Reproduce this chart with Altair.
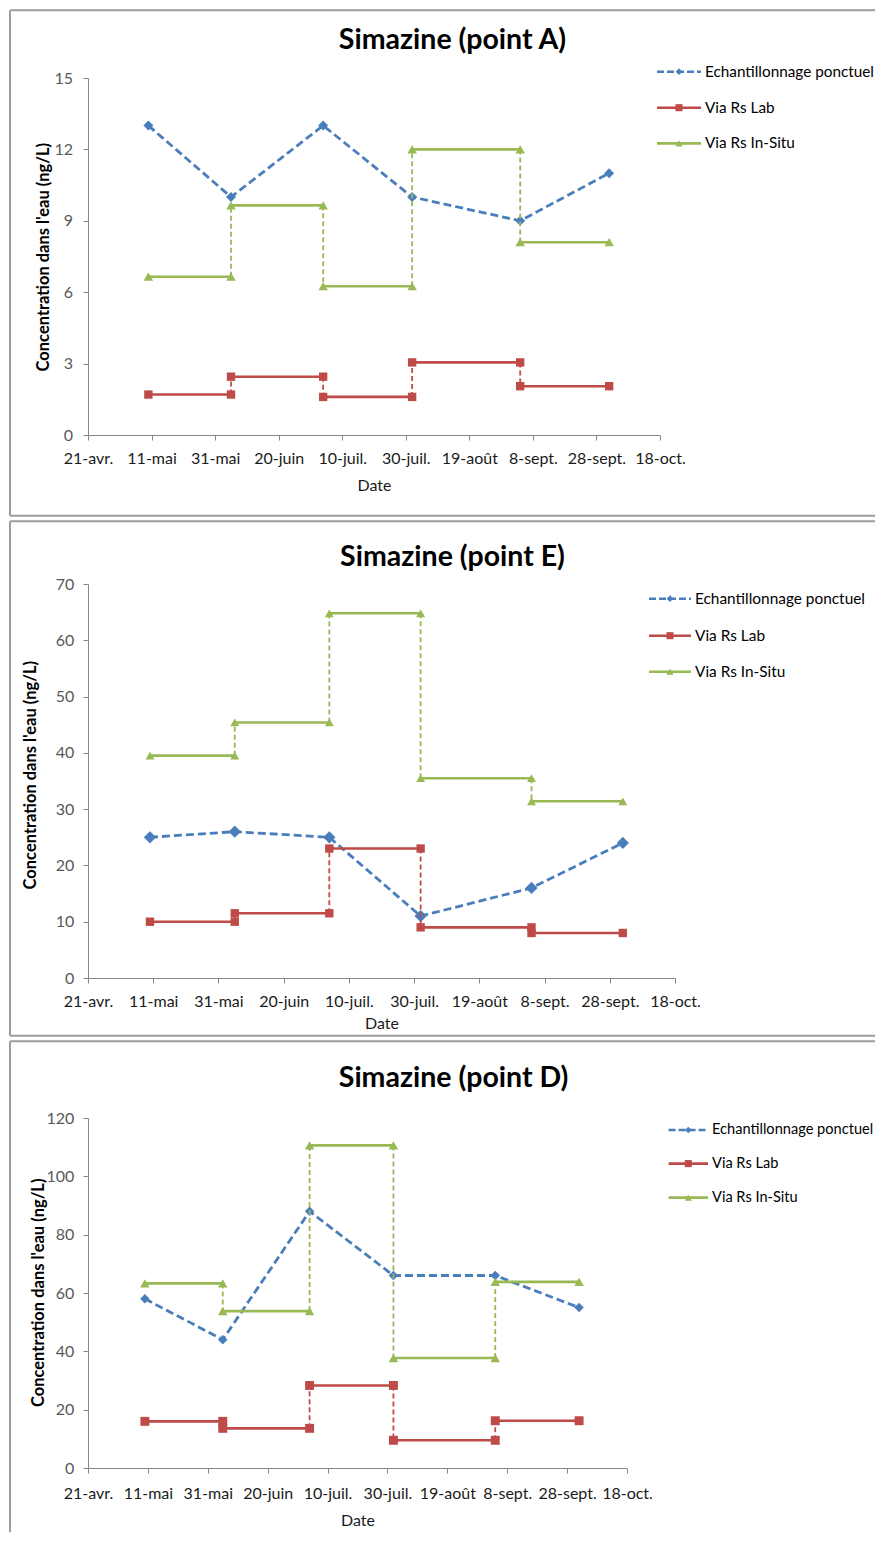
import json
import pandas as pd
import altair as alt

# ---------------- data ----------------
dates = ["2011-05-10", "2011-06-05", "2011-07-04", "2011-08-01", "2011-09-04", "2011-10-02"]
series_names = ["Echantillonnage ponctuel", "Via Rs Lab", "Via Rs In-Situ"]
series_colors = ["#4A7EBB", "#BE4B48", "#98B954"]
series_shapes = ["diamond", "square", "triangle-up"]

x_tick_dates = ["2011-04-21", "2011-05-11", "2011-05-31", "2011-06-20", "2011-07-10",
                "2011-07-30", "2011-08-19", "2011-09-08", "2011-09-28", "2011-10-18"]
x_tick_labels = ["21-avr.", "11-mai", "31-mai", "20-juin", "10-juil.",
                 "30-juil.", "19-août", "8-sept.", "28-sept.", "18-oct."]

titles = ["Simazine (point A)", "Simazine (point E)", "Simazine (point D)"]
x_title = "Date"
y_title = "Concentration dans l'eau (ng/L)"

A_ponctuel = [13, 10, 13, 10, 9, 11]
A_lab = [1.7, 2.45, 1.6, 3.05, 2.05]
A_insitu = [6.65, 9.65, 6.25, 12.0, 8.1]
A_y_ticks = [0, 3, 6, 9, 12, 15]

E_ponctuel = [25, 26, 25, 11, 16, 24]
E_lab = [10.0, 11.5, 23.0, 9.0, 8.0]
E_insitu = [39.5, 45.4, 64.8, 35.5, 31.4]
E_y_ticks = [0, 10, 20, 30, 40, 50, 60, 70]

D_ponctuel = [58, 44, 88, 66, 66, 55]
D_lab = [16.0, 13.6, 28.3, 9.5, 16.2]
D_insitu = [63.3, 53.8, 110.6, 37.7, 63.8]
D_y_ticks = [0, 20, 40, 60, 80, 100, 120]

# ---------------- styling / layout (page pixels) ----------------
FONT = "Lato"
AXIS_GRAY = "#868686"
FRAME_GRAY = "#9d9d9d"
PAGE_RIGHT = 874
X0 = 87.0  # common left edge of the three plot areas

LAYOUT = [
    dict(y0=82.3, w=572, h=357, top=13.5, bottom=522.3, ftop=14.5, fbottom=520,
         tx=451.5, ty=53, xlp=23.0, xty=55.0, ylp=10.5, ytx=42, yty=261,
         lrows=[76, 112, 147.7], lx1=656, lx2=700, ltx=704, lfs=15.3,
         dsize=100, ssize=70, tsize=90),
    dict(y0=586.3, w=587, h=394, top=522.3, bottom=1040.3, ftop=523.5, fbottom=1038,
         tx=451.5, ty=568.4, xlp=23.5, xty=50.8, ylp=9.1, ytx=29.6, yty=777,
         lrows=[601, 638, 674], lx1=648, lx2=690, ltx=694, lfs=15.4,
         dsize=150, ssize=70, tsize=80),
    dict(y0=1118.7, w=539, h=350, top=1040.7, bottom=1534, ftop=1042, fbottom=None,
         tx=452.6, ty=1087.7, xlp=25.0, xty=57.0, ylp=9.1, ytx=37.5, yty=1293,
         lrows=[1130.7, 1164.3, 1198.3], lx1=667.6, lx2=707, ltx=711, lfs=14.6,
         dsize=90, ssize=80, tsize=90),
]


def ms(d):
    return int(pd.Timestamp(d, tz="UTC").value // 10**6)


tick_ms = [ms(d) for d in x_tick_dates]
label_expr = "%s[indexof(%s, time(datum.value))]" % (
    json.dumps(x_tick_labels, ensure_ascii=False), json.dumps(tick_ms))

one = pd.DataFrame({"k": [0]})


def panel(i, ponctuel, lab, insitu, y_ticks):
    L = LAYOUT[i]
    x0, y0 = X0, L["y0"]
    rx = lambda px: px - x0
    ry = lambda py: py - y0

    xs = alt.Scale(type="utc", domain=[tick_ms[0], tick_ms[-1]], nice=False)
    ys = alt.Scale(domain=[y_ticks[0], y_ticks[-1]], nice=False, zero=True)
    xaxis = alt.Axis(values=tick_ms, labelExpr=label_expr, title=x_title, grid=False,
                     zindex=2, domainColor=AXIS_GRAY, tickColor=AXIS_GRAY, tickSize=5,
                     labelFont=FONT, labelFontSize=16, labelColor="#1a1a1a",
                     labelBaseline="alphabetic", labelPadding=L["xlp"], labelFlush=False,
                     labelOverlap=False, titleFont=FONT, titleFontSize=16,
                     titleFontWeight="normal", titleColor="#1a1a1a",
                     titleY=L["xty"], titleBaseline="alphabetic")
    yaxis = alt.Axis(values=y_ticks, title=y_title, grid=False, format="d", zindex=2,
                     domainColor=AXIS_GRAY, tickColor=AXIS_GRAY, tickSize=5,
                     labelFont=FONT, labelFontSize=16, labelColor="#595959",
                     labelPadding=L["ylp"], labelFlush=False,
                     titleFont=FONT, titleFontSize=16.5, titleFontWeight="bold",
                     titleColor="black", titleAngle=270, titleBaseline="middle",
                     titleAlign="center", titleX=rx(L["ytx"]), titleY=ry(L["yty"]))

    def X(f):
        return alt.X(f, scale=xs, axis=xaxis)

    def Y(f):
        return alt.Y(f, scale=ys, axis=yaxis)

    layers = []
    # background (defines the panel box)
    layers.append(alt.Chart(one).mark_rect(fill="white", strokeWidth=0).encode(
        x=alt.value(rx(8)), x2=alt.value(rx(PAGE_RIGHT)),
        y=alt.value(ry(L["top"])), y2=alt.value(ry(L["bottom"]))))
    # frame lines
    fb = L["fbottom"] if L["fbottom"] is not None else L["bottom"] - 1
    layers.append(alt.Chart(one).mark_rule(color=FRAME_GRAY, strokeWidth=2).encode(
        x=alt.value(rx(9)), x2=alt.value(rx(PAGE_RIGHT)), y=alt.value(ry(L["ftop"]))))
    layers.append(alt.Chart(one).mark_rule(color=FRAME_GRAY, strokeWidth=2).encode(
        x=alt.value(rx(9)), y=alt.value(ry(L["ftop"])), y2=alt.value(ry(fb))))
    if L["fbottom"] is not None:
        layers.append(alt.Chart(one).mark_rule(color=FRAME_GRAY, strokeWidth=2).encode(
            x=alt.value(rx(9)), x2=alt.value(rx(PAGE_RIGHT)), y=alt.value(ry(fb))))
    # title
    layers.append(alt.Chart(pd.DataFrame({"t": [titles[i]]})).mark_text(
        font=FONT, fontSize=28.5, fontWeight="bold", color="black", align="center",
        baseline="alphabetic").encode(text="t:N", x=alt.value(rx(L["tx"])),
                                      y=alt.value(ry(L["ty"]))))

    # series 1: spot sampling
    blue = pd.DataFrame({"date": dates, "value": ponctuel})
    layers.append(alt.Chart(blue).mark_line(color=series_colors[0], strokeWidth=2.8,
                                            strokeDash=[8, 4]).encode(
        x=X("date:T"), y=Y("value:Q")))
    layers.append(alt.Chart(blue).mark_point(shape=series_shapes[0], filled=True, opacity=1,
                                             size=L["dsize"], color=series_colors[0]).encode(
        x=X("date:T"), y=Y("value:Q")))

    # step series
    for k, vals, sz in [(1, lab, L["ssize"]), (2, insitu, L["tsize"])]:
        col, shp = series_colors[k], series_shapes[k]
        seg = pd.DataFrame({"start": dates[:-1], "end": dates[1:], "value": vals})
        conn = pd.DataFrame({"date": dates[1:-1], "v_from": vals[:-1], "v_to": vals[1:]})
        pts = pd.DataFrame({"date": dates[:-1] + dates[1:], "value": list(vals) + list(vals)})
        layers.append(alt.Chart(conn).mark_rule(color=col, strokeWidth=1.8,
                                                strokeDash=[5, 3]).encode(
            x=X("date:T"), y=Y("v_from:Q"), y2="v_to:Q"))
        layers.append(alt.Chart(seg).mark_rule(color=col, strokeWidth=2.6).encode(
            x=X("start:T"), x2="end:T", y=Y("value:Q")))
        layers.append(alt.Chart(pts).mark_point(shape=shp, filled=True, opacity=1,
                                                size=sz, color=col).encode(
            x=X("date:T"), y=Y("value:Q")))

    # legend (drawn as guide marks)
    xm = (L["lx1"] + L["lx2"]) / 2
    for k, name in enumerate(series_names):
        yk = ry(L["lrows"][k])
        rule_kw = dict(color=series_colors[k], strokeWidth=2.6)
        if k == 0:
            rule_kw.update(strokeDash=[7, 3])
        layers.append(alt.Chart(one).mark_rule(**rule_kw).encode(
            x=alt.value(rx(L["lx1"])), x2=alt.value(rx(L["lx2"])), y=alt.value(yk)))
        layers.append(alt.Chart(one).mark_point(
            shape=series_shapes[k], filled=True, opacity=1, color=series_colors[k],
            size=[45, 50, 50][k]).encode(x=alt.value(rx(xm)), y=alt.value(yk)))
        layers.append(alt.Chart(pd.DataFrame({"s": [name]})).mark_text(
            font=FONT, fontSize=L["lfs"], color="black", align="left",
            baseline="middle").encode(text="s:N", x=alt.value(rx(L["ltx"])),
                                      y=alt.value(yk)))

    return alt.layer(*layers).properties(width=L["w"], height=L["h"])


pA = panel(0, A_ponctuel, A_lab, A_insitu, A_y_ticks)
pE = panel(1, E_ponctuel, E_lab, E_insitu, E_y_ticks)
pD = panel(2, D_ponctuel, D_lab, D_insitu, D_y_ticks)

chart = alt.concat(pA, pE, pD, columns=1, spacing=0, padding=0, align="none",
                   bounds="full").resolve_scale(
    x="independent", y="independent").configure_view(
    stroke=None).configure(background="white", font=FONT)

chart.save("out.html", embed_options={"renderer": "svg", "actions": False})
